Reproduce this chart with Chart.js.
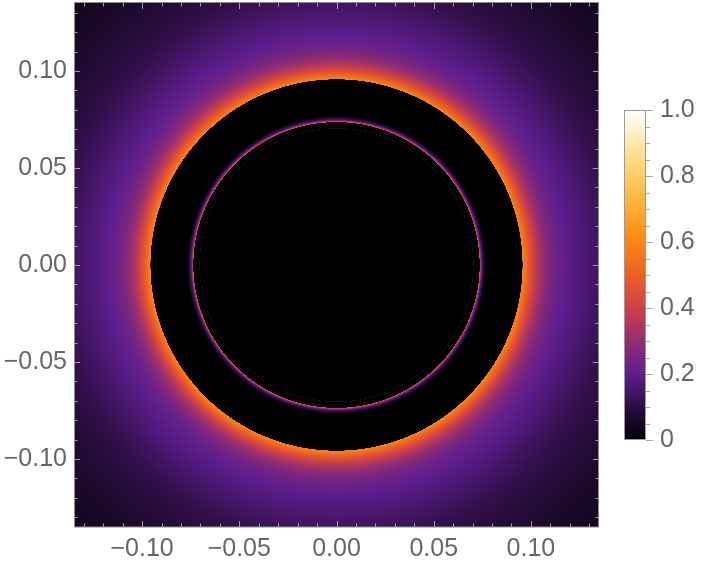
<!DOCTYPE html>
<html><head><meta charset="utf-8">
<script src="https://cdn.jsdelivr.net/npm/chart.js@4"></script>
<style>
body{margin:0;background:#fff;}
#wrap{position:relative;width:705px;height:565px;}
canvas{position:absolute;left:0;top:0;}
</style>
</head><body>
<div id="wrap"><canvas id="main" width="705" height="565"></canvas><canvas id="bar" width="705" height="565"></canvas></div>
<script>
// ---- data ----
const xTickValues = [-0.10, -0.05, 0.00, 0.05, 0.10];
const yTickValues = [-0.10, -0.05, 0.00, 0.05, 0.10];
const minorTickValues = [-0.13,-0.12,-0.11,-0.10,-0.09,-0.08,-0.07,-0.06,-0.05,-0.04,-0.03,-0.02,-0.01,0.00,
  0.01,0.02,0.03,0.04,0.05,0.06,0.07,0.08,0.09,0.10,0.11,0.12,0.13];
const axisMin = -0.135, axisMax = 0.135;
// radial intensity profile (radius, intensity)
const profileRadius =    [0.0702, 0.0704, 0.0706, 0.0736, 0.07365, 0.0739, 0.0742, 0.0746, 0.0752, 0.0760, 0.0767,
  0.09565, 0.0957, 0.0975, 0.0995, 0.1023, 0.1055, 0.109, 0.113, 0.118, 0.125, 0.135, 0.145, 0.160, 0.175, 0.192];
const profileIntensity = [0.0,    0.10,   0.0,    0.0,    0.50,    0.42,   0.32,   0.20,   0.12,   0.06,   0.0,
  0.0,     0.60,   0.53,   0.46,   0.38,   0.31,   0.26,  0.225, 0.20,  0.175, 0.14,  0.11,  0.08,  0.06,  0.045];
// colour scale (SunsetColors-like)
const colorStops = [0, 0.1, 0.2, 0.3, 0.4, 0.5, 0.6, 0.7, 0.8, 0.9, 1.0];
const colorValues = [[0,0,0],[44,14,66],[94,30,142],[148,46,112],[206,64,72],[236,96,36],
  [250,134,18],[252,172,48],[253,206,98],[254,232,172],[255,255,255]];
const colorbarTicks = [0, 0.2, 0.4, 0.6, 0.8, 1.0];
const colorbarMinorTicks = [0.05,0.1,0.15,0.25,0.3,0.35,0.45,0.5,0.55,0.65,0.7,0.75,0.85,0.9,0.95];

// ---- helpers ----
function lookup(xs, ys, v){
  if (v <= xs[0]) return ys[0];
  if (v >= xs[xs.length-1]) return ys[ys.length-1];
  for (let k=1;k<xs.length;k++){
    if (v <= xs[k]){ const t=(v-xs[k-1])/(xs[k]-xs[k-1]); return ys[k-1]+(ys[k]-ys[k-1])*t; }
  }
  return ys[ys.length-1];
}
function intensityAt(r){ if (r < profileRadius[0]) return 0; return lookup(profileRadius, profileIntensity, r); }
function colorAt(v){
  v = Math.max(0, Math.min(1, v));
  for (let k=1;k<colorStops.length;k++){
    if (v <= colorStops[k]){
      const t=(v-colorStops[k-1])/(colorStops[k]-colorStops[k-1]);
      const a=colorValues[k-1], b=colorValues[k];
      return [a[0]+(b[0]-a[0])*t, a[1]+(b[1]-a[1])*t, a[2]+(b[2]-a[2])*t];
    }
  }
  return colorValues[colorValues.length-1];
}
const FONT = {family: "'Liberation Sans', Arial, sans-serif", size: 25};
const TXT = '#666666';
function fmt2(v){ if (Math.abs(v)<1e-9) return '0.00'; return (v<0?'\u2212':'')+Math.abs(v).toFixed(2); }
function noPad(s){ s.paddingTop = 0; s.paddingBottom = 0; s.paddingLeft = 0; s.paddingRight = 0; }

// ---- main density plot ----
const fieldPlugin = {
  id: 'field',
  beforeDatasetsDraw(chart){
    const {ctx, chartArea:a, scales:{x, y}} = chart;
    const L=Math.round(a.left), T=Math.round(a.top), W=Math.round(a.right)-L, H=Math.round(a.bottom)-T;
    const img = ctx.createImageData(W, H);
    for (let j=0;j<H;j++){
      const yv = y.getValueForPixel(T+j+0.5);
      for (let i=0;i<W;i++){
        const xv = x.getValueForPixel(L+i+0.5);
        const c = colorAt(intensityAt(Math.hypot(xv, yv)));
        const p=(j*W+i)*4;
        img.data[p]=c[0]; img.data[p+1]=c[1]; img.data[p+2]=c[2]; img.data[p+3]=255;
      }
    }
    ctx.putImageData(img, L, T);
  },
  afterDraw(chart){
    const {ctx, chartArea:a, scales:{x, y}} = chart;
    ctx.save();
    ctx.strokeStyle = '#a0a0a0'; ctx.lineWidth = 1;
    ctx.beginPath();
    minorTickValues.forEach(v=>{
      const major = xTickValues.some(m=>Math.abs(m-v)<1e-9);
      const len = major ? 6 : 3.5;
      const px = Math.round(x.getPixelForValue(v))+0.5;
      ctx.moveTo(px, a.bottom); ctx.lineTo(px, a.bottom-len);
      ctx.moveTo(px, a.top); ctx.lineTo(px, a.top+len);
      const py = Math.round(y.getPixelForValue(v))+0.5;
      ctx.moveTo(a.left, py); ctx.lineTo(a.left+len, py);
      ctx.moveTo(a.right, py); ctx.lineTo(a.right-len, py);
    });
    ctx.stroke();
    ctx.strokeStyle = '#8c8c8c';
    ctx.strokeRect(Math.round(a.left)+0.5, Math.round(a.top)-0.5, Math.round(a.right-a.left)-1, Math.round(a.bottom-a.top)+0.5);
    ctx.restore();
  }
};

new Chart(document.getElementById('main'), {
  type: 'scatter',
  data: { datasets: [{ data: [], pointRadius: 0 }] },
  options: {
    responsive: false, animation: false, devicePixelRatio: 1,
    layout: { padding: { left: 0, top: 3, right: 106, bottom: 0 } },
    plugins: { legend: { display: false }, tooltip: { enabled: false } },
    scales: {
      x: {
        type: 'linear', min: axisMin, max: axisMax,
        grid: { display: false, drawTicks: false }, border: { display: false },
        afterBuildTicks: s => { s.ticks = xTickValues.map(v => ({ value: v })); },
        afterFit: s => { s.height = 38; noPad(s); },
        ticks: { autoSkip: false, maxRotation: 0, padding: 7, color: TXT, font: FONT, callback: v => fmt2(v) }
      },
      y: {
        type: 'linear', min: axisMin, max: axisMax,
        grid: { display: false, drawTicks: false }, border: { display: false },
        afterBuildTicks: s => { s.ticks = yTickValues.map(v => ({ value: v })); },
        afterFit: s => { s.width = 74; noPad(s); },
        ticks: { autoSkip: false, padding: 7, color: TXT, font: FONT, callback: v => fmt2(v) }
      }
    }
  },
  plugins: [fieldPlugin]
});

// ---- colour bar ----
const barPlugin = {
  id: 'cbar',
  beforeDatasetsDraw(chart){
    const {ctx, chartArea:a, scales:{y}} = chart;
    for (let py=Math.round(a.top); py<Math.round(a.bottom); py++){
      const c = colorAt(y.getValueForPixel(py+0.5));
      ctx.fillStyle = 'rgb('+Math.round(c[0])+','+Math.round(c[1])+','+Math.round(c[2])+')';
      ctx.fillRect(a.left, py, a.right-a.left, 1);
    }
  },
  afterDraw(chart){
    const {ctx, chartArea:a, scales:{y}} = chart;
    ctx.save();
    ctx.strokeStyle = '#a8a8a8'; ctx.lineWidth = 1;
    ctx.beginPath();
    colorbarTicks.forEach(v=>{ const py=Math.round(y.getPixelForValue(v))+0.5; ctx.moveTo(a.right, py); ctx.lineTo(a.right+7, py); });
    colorbarMinorTicks.forEach(v=>{ const py=Math.round(y.getPixelForValue(v))+0.5; ctx.moveTo(a.right, py); ctx.lineTo(a.right+4, py); });
    ctx.stroke();
    ctx.strokeStyle = '#9a9a9a';
    ctx.strokeRect(a.left+0.5, a.top+0.5, a.right-a.left-1, a.bottom-a.top-1);
    ctx.restore();
  }
};

new Chart(document.getElementById('bar'), {
  type: 'scatter',
  data: { datasets: [{ data: [], pointRadius: 0 }] },
  options: {
    responsive: false, animation: false, devicePixelRatio: 1,
    layout: { padding: { left: 624, top: 110, right: 0, bottom: 125 } },
    plugins: { legend: { display: false }, tooltip: { enabled: false } },
    scales: {
      x: { display: false, min: 0, max: 1 },
      y: {
        type: 'linear', position: 'right', min: 0, max: 1,
        grid: { display: false, drawTicks: false }, border: { display: false },
        afterBuildTicks: s => { s.ticks = colorbarTicks.map(v => ({ value: v })); },
        afterFit: s => { s.width = 59; noPad(s); },
        ticks: { autoSkip: false, padding: 14, color: TXT, font: FONT, callback: v => (v === 0 ? '0' : v.toFixed(1)) }
      }
    }
  },
  plugins: [barPlugin]
});
</script>
</body></html>
